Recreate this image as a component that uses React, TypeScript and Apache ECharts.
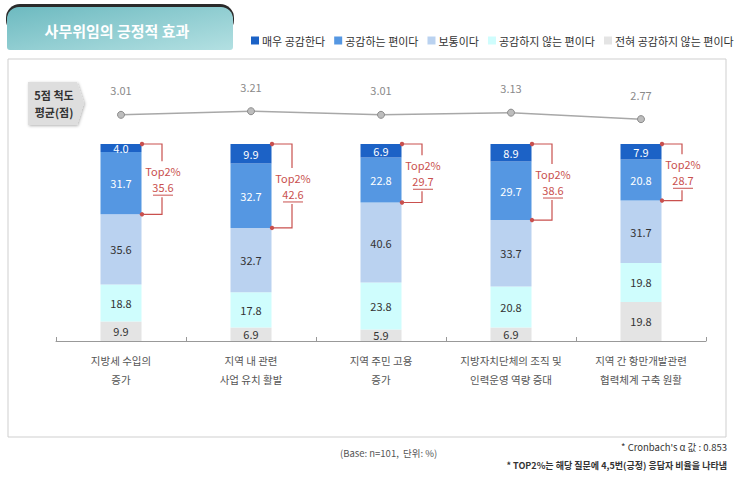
import React, { useEffect, useRef } from "react";
import * as echarts from "echarts";

const categories = [
  "지방세 수입의\n증가",
  "지역 내 관련\n사업 유치 활발",
  "지역 주민 고용\n증가",
  "지방자치단체의 조직 및\n인력운영 역량 증대",
  "지역 간 항만개발관련\n협력체계 구축 원활",
];
const seriesNames = ["매우 공감한다", "공감하는 편이다", "보통이다", "공감하지 않는 편이다", "전혀 공감하지 않는 편이다"];
const veryAgree = [4.0, 9.9, 6.9, 8.9, 7.9];
const agree = [31.7, 32.7, 22.8, 29.7, 20.8];
const neutral = [35.6, 32.7, 40.6, 33.7, 31.7];
const disagree = [18.8, 17.8, 23.8, 20.8, 19.8];
const stronglyDisagree = [9.9, 6.9, 5.9, 6.9, 19.8];
const meanScores = [3.01, 3.21, 3.01, 3.13, 2.77];
const top2 = [35.6, 42.6, 29.7, 38.6, 28.7];

const colors = ["#1C62C6", "#5597E2", "#BAD2F0", "#CFFDFD", "#E4E4E4"];
const FONT = "'Noto Sans CJK KR', 'Noto Sans', sans-serif";
const RED = "#C9504E";

export default function App() {
  const ref = useRef<HTMLDivElement>(null);
  useEffect(() => {
    if (!ref.current) return;
    const chart = echarts.init(ref.current, undefined, { renderer: "svg" });
    const segData = [veryAgree, agree, neutral, disagree, stronglyDisagree];
    const barSeries: any[] = [];
    for (let k = 4; k >= 0; k--) {
      barSeries.push({
        name: seriesNames[k],
        type: "bar",
        stack: "total",
        barWidth: 41,
        xAxisIndex: 0,
        yAxisIndex: 0,
        itemStyle: { color: colors[k] },
        label: {
          show: true,
          position: "inside",
          color: k <= 1 ? "#ffffff" : "#333333",
          fontSize: 11,
          fontFamily: FONT,
          formatter: (p: any) => Number(p.value).toFixed(1),
        },
        data: segData[k],
      });
    }
    const bracketData = categories.map((_, i) => [
      i,
      stronglyDisagree[i] + disagree[i] + neutral[i],
      stronglyDisagree[i] + disagree[i] + neutral[i] + agree[i] + veryAgree[i],
      top2[i],
    ]);
    const option: any = {
      animation: false,
      backgroundColor: "#ffffff",
      textStyle: { fontFamily: FONT },
      legend: {
        left: 246,
        top: 30,
        itemWidth: 8,
        itemHeight: 8,
        itemGap: 9,
        icon: "rect",
        data: seriesNames,
        textStyle: { fontSize: 11, color: "#333", fontFamily: FONT, padding: [0, 0, 0, -2] },
      },
      graphic: [
        { type: "rect", shape: { x: 8, y: 59, width: 718, height: 378 }, style: { fill: "#fff", stroke: "#cfcfcf", lineWidth: 1 }, z: -10 },
        { type: "rect", shape: { x: 6, y: 4, width: 228, height: 30, r: 14 }, style: { fill: "#2a2a2a" }, z: -5 },
        {
          type: "rect",
          shape: { x: 7, y: 7, width: 226, height: 43, r: [12, 12, 3, 3] },
          style: {
            fill: new echarts.graphic.LinearGradient(0, 0, 1, 1, [
              { offset: 0, color: "#6DBAC0" },
              { offset: 1, color: "#B3E0E2" },
            ]),
          },
          z: -4,
        },
        {
          type: "text",
          style: { text: "사무위임의 긍정적 효과", x: 117, y: 30, textAlign: "center", textVerticalAlign: "middle", fontSize: 15, fontWeight: "bold", fill: "#ffffff", fontFamily: FONT },
          z: 5,
        },
        {
          type: "polygon",
          shape: { points: [[28, 82], [77, 82], [84, 103], [77, 125], [28, 125]] },
          style: { fill: "#DEDEDE", shadowBlur: 3, shadowColor: "rgba(0,0,0,0.3)", shadowOffsetX: 1, shadowOffsetY: 1 },
          z: 1,
        },
        {
          type: "text",
          style: { text: "5점 척도\n평균(점)", x: 54, y: 103, textAlign: "center", textVerticalAlign: "middle", fontSize: 11, lineHeight: 17, fontWeight: "bold", fill: "#333", fontFamily: FONT },
          z: 2,
        },
        {
          type: "text",
          style: { text: "(Base: n=101,  단위: %)", x: 340, y: 453, textVerticalAlign: "middle", fontSize: 9.5, fill: "#555", fontFamily: FONT },
        },
        {
          type: "text",
          style: { text: "* Cronbach's α 값 : 0.853", x: 727, y: 447, textAlign: "right", textVerticalAlign: "middle", fontSize: 9.5, fill: "#333", fontFamily: FONT },
        },
        {
          type: "text",
          style: { text: "* TOP2%는 해당 질문에 4,5번(긍정) 응답자 비율을 나타냄", x: 727, y: 465, textAlign: "right", textVerticalAlign: "middle", fontSize: 9, fontWeight: "bold", fill: "#333", fontFamily: FONT },
        },
      ],
      grid: [
        { left: 56, width: 650, top: 144, height: 197 },
        { left: 56, width: 650, top: 97, height: 36 },
      ],
      xAxis: [
        {
          type: "category",
          gridIndex: 0,
          data: categories,
          axisLine: { show: true, lineStyle: { color: "#999", width: 1 } },
          axisTick: { show: true, inside: true, length: 4, lineStyle: { color: "#999" } },
          axisLabel: { fontSize: 10.5, color: "#555", lineHeight: 19, margin: 10, fontFamily: FONT, interval: 0 },
        },
        { type: "category", gridIndex: 1, data: categories, show: false },
      ],
      yAxis: [
        { type: "value", gridIndex: 0, min: 0, max: 100, show: false },
        { type: "value", gridIndex: 1, min: 2, max: 4, show: false },
      ],
      series: [
        ...barSeries,
        {
          name: "평균",
          type: "line",
          xAxisIndex: 1,
          yAxisIndex: 1,
          data: meanScores,
          symbol: "circle",
          symbolSize: 7,
          lineStyle: { color: "#A8A8A8", width: 1.5 },
          itemStyle: { color: "#BDBDBD", borderColor: "#8C8C8C", borderWidth: 1 },
          label: {
            show: true,
            position: "top",
            distance: 15,
            fontSize: 11,
            color: "#8A8A8A",
            fontFamily: FONT,
            formatter: (p: any) => Number(p.value).toFixed(2),
          },
        },
        {
          name: "Top2",
          type: "custom",
          xAxisIndex: 0,
          yAxisIndex: 0,
          z: 10,
          data: bracketData,
          renderItem: (params: any, api: any) => {
            const i = api.value(0);
            const bot = api.coord([i, api.value(1)]);
            const top = api.coord([i, api.value(2)]);
            const val = api.value(3);
            const x0 = top[0] + 21;
            const x1 = top[0] + 41;
            const yt = top[1];
            const yb = bot[1];
            const ym = (yt + yb) / 2;
            const st = { stroke: RED, lineWidth: 1.2, fill: "none" };
            return {
              type: "group",
              children: [
                { type: "polyline", shape: { points: [[x0, yt], [x1, yt], [x1, ym - 18]] }, style: st },
                { type: "polyline", shape: { points: [[x1, ym + 18], [x1, yb], [x0, yb]] }, style: st },
                { type: "circle", shape: { cx: x0, cy: yt, r: 2.2 }, style: { fill: RED } },
                { type: "circle", shape: { cx: x0, cy: yb, r: 2.2 }, style: { fill: RED } },
                { type: "text", style: { text: "Top2%", x: x1 + 1, y: ym - 8, textAlign: "center", textVerticalAlign: "middle", fontSize: 11, lineHeight: 14, fill: RED, fontFamily: FONT } },
                { type: "text", style: { text: Number(val).toFixed(1), x: x1 + 1, y: ym + 8, textAlign: "center", textVerticalAlign: "middle", fontSize: 11, lineHeight: 14, fill: RED, fontFamily: FONT } },
                { type: "line", shape: { x1: x1 - 9, y1: ym + 16, x2: x1 + 11, y2: ym + 16 }, style: { stroke: RED, lineWidth: 1 } },
              ],
            };
          },
        },
      ],
    };
    chart.setOption(option);
    return () => chart.dispose();
  }, []);
  return <div ref={ref} style={{ position: "absolute", left: 0, top: 0, width: 739, height: 497 }} />;
}
